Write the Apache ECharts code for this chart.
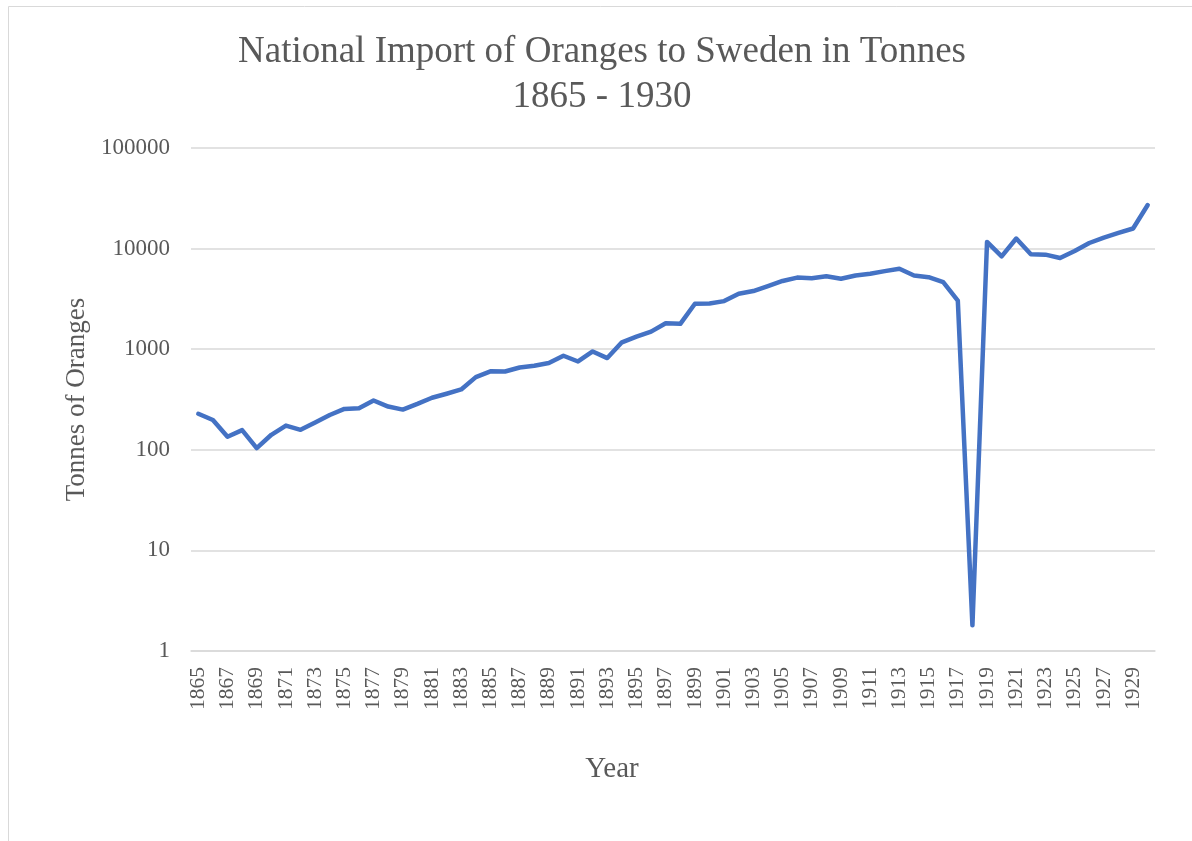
<!DOCTYPE html>
<html>
<head>
<meta charset="utf-8">
<script src="https://cdn.jsdelivr.net/npm/echarts@6/dist/echarts.min.js"></script>
<style>
  html, body { margin: 0; padding: 0; background: #ffffff; }
  #chart { width: 1192px; height: 841px; }
</style>
</head>
<body>
<div id="chart"></div>
<script>
const years = [];
for (let y = 1865; y <= 1930; y++) years.push(String(y));

const tonnes = [
  228, 198, 135, 157, 104, 141, 174, 158, 187, 222,
  255, 259, 309, 269, 251, 286, 329, 361, 398, 528,
  603, 600, 658, 684, 728, 861, 755, 950, 816, 1170,
  1333, 1496, 1811, 1786, 2831, 2850, 3006, 3565, 3785, 4246,
  4764, 5150, 5070, 5300, 5010, 5410, 5620, 5970, 6300, 5410,
  5200, 4640, 3040, 1.8, 11650, 8380, 12590, 8770, 8710, 8060,
  9460, 11370, 12880, 14330, 15850, 27100
];

const titleText = 'National Import of Oranges to Sweden in Tonnes\n1865 - 1930';
const xTitle = 'Year';
const yTitle = 'Tonnes of Oranges';

const serif = '"Liberation Serif", "Times New Roman", serif';
const chart = echarts.init(document.getElementById('chart'), null, { renderer: 'canvas' });
chart.setOption({
  backgroundColor: '#ffffff',
  animation: false,
  title: {
    text: titleText,
    left: 597,
    textAlign: 'center',
    top: 25,
    textStyle: { fontFamily: serif, fontSize: 37, fontWeight: 'normal', color: '#595959', lineHeight: 45 }
  },
  graphic: [
    { type: 'rect', shape: { x: 8.5, y: 6.5, width: 1200, height: 860 }, style: { fill: 'none', stroke: '#d9d9d9', lineWidth: 1 }, silent: true },
    { type: 'text', x: 612, y: 769, style: { text: xTitle, font: '29px ' + serif, fill: '#595959', textAlign: 'center', textVerticalAlign: 'middle' } }
  ],
  grid: { left: 191, right: 37, top: 148, bottom: 190 },
  xAxis: {
    type: 'category',
    data: years,
    boundaryGap: true,
    axisLine: { show: true, lineStyle: { color: '#d9d9d9', width: 1.5 } },
    axisTick: { show: false },
    axisLabel: { interval: 1, rotate: 90, margin: 16, fontFamily: serif, fontSize: 21.5, color: '#595959' },
    splitLine: { show: false }
  },
  yAxis: {
    type: 'log',
    logBase: 10,
    min: 1,
    max: 100000,
    name: yTitle,
    nameLocation: 'middle',
    nameGap: 90,
    nameTextStyle: { fontFamily: serif, fontSize: 27, color: '#595959' },
    axisLine: { show: false },
    axisTick: { show: false },
    axisLabel: { margin: 21, fontFamily: serif, fontSize: 23, color: '#595959', formatter: function (v) { return String(Math.round(v)); } },
    splitLine: { show: true, lineStyle: { color: '#d9d9d9', width: 1.5 } }
  },
  series: [{
    type: 'line',
    data: tonnes,
    showSymbol: false,
    symbol: 'none',
    lineStyle: { color: '#4472C4', width: 4.5, cap: 'round', join: 'round' },
    itemStyle: { color: '#4472C4' }
  }]
});
</script>
</body>
</html>
